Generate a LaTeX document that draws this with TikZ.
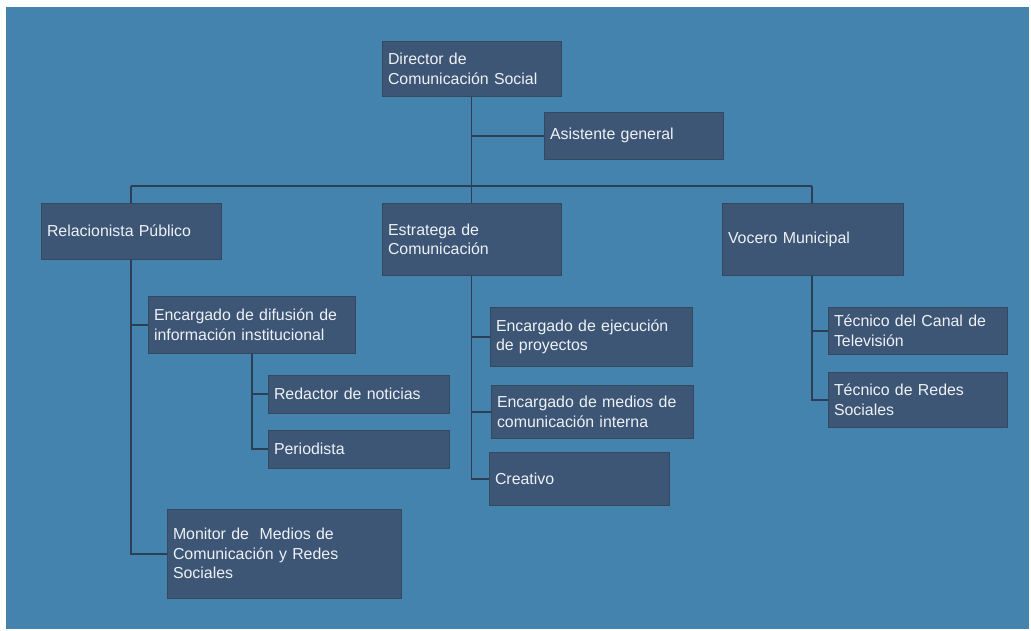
\documentclass[tikz,border=0pt]{standalone}
\usepackage{fontspec}
\setmainfont{Liberation Sans}
\definecolor{bg}{HTML}{4383AE}
\definecolor{boxfill}{HTML}{3D5676}
\definecolor{boxline}{HTML}{34495F}
\definecolor{conn}{HTML}{2E3F55}
\definecolor{txt}{HTML}{EEF1F5}
\tikzset{
  role/.style={draw=boxline, line width=0.8pt, fill=boxfill, text=txt,
    rectangle, align=left, inner xsep=6pt, inner ysep=0pt,
    font=\fontsize{15.9}{19.5}\selectfont, anchor=center},
  link/.style={draw=conn, line width=1.7pt}
}
% \rolebox{name}{x1}{y1}{x2}{y2}{text}
\newcommand{\rolebox}[6]{%
  \pgfmathsetmacro{\bw}{#4-#2}\pgfmathsetmacro{\bh}{#5-#3}%
  \pgfmathsetmacro{\tw}{#4-#2-12}%
  \node[role, minimum width=\bw pt, minimum height=\bh pt, text width=\tw pt]
    (#1) at ({(#2+#4)/2},{(#3+#5)/2-0.8}) {#6};}
\begin{document}
\begin{tikzpicture}[x=1pt,y=-1pt]
\useasboundingbox (0,0) rectangle (1031,631);
\fill[white] (0,0) rectangle (1031,631);
\fill[bg] (6,7) rectangle (1029,629);

\coordinate (hL) at (131,186);
\coordinate (hR) at (812,186);

\rolebox{dir}{382}{42}{561}{97}{Director de\\Comunicación Social}
\rolebox{asis}{544}{113}{723}{160}{Asistente general}
\rolebox{rel}{41}{204}{221}{260}{Relacionista Público}
\rolebox{est}{382}{204}{561}{276}{Estratega de\\Comunicación}
\rolebox{voc}{722}{204}{903}{276}{Vocero Municipal}
\rolebox{dif}{148}{297}{355}{354}{Encargado de difusión de\\información institucional}
\rolebox{red}{268}{376}{449}{414}{Redactor de noticias}
\rolebox{per}{268}{431}{449}{469}{Periodista}
\rolebox{mon}{167}{510}{401}{599}{Monitor de \ Medios de\\Comunicación y Redes\\Sociales}
\rolebox{eje}{490}{308}{692}{367}{Encargado de ejecución\\de proyectos}
\rolebox{med}{491}{386}{693}{439}{Encargado de medios de\\comunicación interna}
\rolebox{cre}{489}{453}{669}{506}{Creativo}
\rolebox{can}{828}{308}{1007}{355}{Técnico del Canal de\\Televisión}
\rolebox{rds}{828}{373}{1007}{428}{Técnico de Redes\\Sociales}

\draw[link] (dir.south) -- (est.north);
\draw[link] (dir.south |- asis.west) -- (asis.west);
\draw[link] (hL) -- (hR);
\draw[link] (hL) -- (hL |- rel.north);
\draw[link] (hR) -- (hR |- voc.north);
% Relacionista
\draw[link] (rel.south -| hL) -- (hL |- mon.west) -- (mon.west);
\draw[link] (hL |- dif.west) -- (dif.west);
\coordinate (dv) at (252,354);
\draw[link] (dv) -- (dv |- per.west) -- (per.west);
\draw[link] (dv |- red.west) -- (red.west);
% Estratega
\draw[link] (est.south) -- (est.south |- cre.west) -- (cre.west);
\draw[link] (est.south |- eje.west) -- (eje.west);
\draw[link] (est.south |- med.west) -- (med.west);
% Vocero
\coordinate (vv) at (812,276);
\draw[link] (vv) -- (vv |- rds.west) -- (rds.west);
\draw[link] (vv |- can.west) -- (can.west);
\end{tikzpicture}
\end{document}
